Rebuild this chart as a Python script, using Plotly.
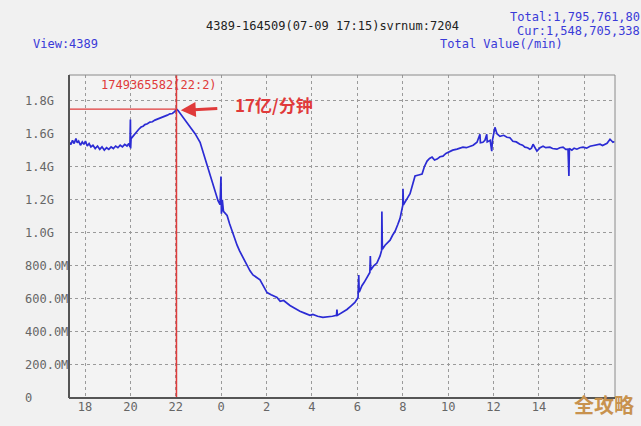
import plotly.graph_objects as go

# ---- data (hours since 00:00 of 07-09; values in G per minute) ----
hours = [17.30, 17.38, 17.45, 17.52, 17.60, 17.66, 17.72, 17.80, 17.88, 17.95,
         18.02, 18.10, 18.18, 18.26, 18.35, 18.45, 18.55, 18.65, 18.75, 18.85,
         18.95, 19.05, 19.15, 19.25, 19.35, 19.45, 19.55, 19.65, 19.75, 19.85,
         19.93, 19.98, 20.00, 20.01, 20.03,
         20.12, 20.20, 20.28, 20.36, 20.47, 20.56, 20.64, 20.75, 20.86, 20.97,
         21.08, 21.20, 21.30, 21.42, 21.52, 21.63, 21.74, 21.85, 21.96, 22.03,
         22.10, 22.18, 22.40, 22.63, 22.85, 23.07, 23.18, 23.29, 23.40, 23.51,
         23.62, 23.73, 23.86, 23.95, 23.99, 24.01, 24.05, 24.10, 24.26, 24.37,
         24.48, 24.60, 24.70, 24.81, 24.92, 25.03, 25.14, 25.27, 25.40, 25.55,
         25.71, 25.85, 26.02, 26.20, 26.46, 26.60, 26.75, 27.03, 27.25, 27.47,
         27.70, 27.91, 28.04, 28.25, 28.48, 28.70, 28.90, 29.08, 29.10, 29.12,
         29.30, 29.54, 29.70, 29.89, 30.03, 30.06, 30.08, 30.20, 30.30, 30.42,
         30.55, 30.57, 30.59, 30.72, 30.86, 31.00, 31.07, 31.08, 31.10, 31.22,
         31.33, 31.44, 31.55, 31.66, 31.78, 31.88, 32.00, 32.01, 32.03, 32.19,
         32.32, 32.45, 32.54, 32.70, 32.85, 32.95, 33.07, 33.18, 33.29, 33.40,
         33.51, 33.64, 33.77, 33.90, 34.08, 34.20, 34.39, 34.50, 34.65, 34.80,
         34.96, 35.10, 35.27, 35.40, 35.42, 35.53, 35.62, 35.70, 35.72, 35.85,
         35.92, 35.95, 36.06, 36.15, 36.28, 36.45, 36.59, 36.72, 36.85, 37.00,
         37.16, 37.28, 37.38, 37.50, 37.60, 37.67, 37.74, 37.82, 37.91, 38.05,
         38.18, 38.30, 38.48, 38.60, 38.79, 38.92, 39.06, 39.18, 39.28, 39.32,
         39.34, 39.45, 39.55, 39.67, 39.80, 39.94, 40.10, 40.25, 40.45, 40.69,
         40.80, 41.00, 41.13, 41.26, 41.33]
values_g = [1.550, 1.535, 1.560, 1.540, 1.570, 1.545, 1.555, 1.530, 1.550, 1.535,
            1.555, 1.525, 1.540, 1.520, 1.530, 1.510, 1.525, 1.505, 1.520, 1.500,
            1.515, 1.505, 1.520, 1.510, 1.525, 1.515, 1.530, 1.520, 1.535, 1.525,
            1.540, 1.520, 1.685, 1.510, 1.570,
            1.585, 1.600, 1.610, 1.625, 1.640, 1.645, 1.655, 1.660, 1.670, 1.672,
            1.682, 1.688, 1.695, 1.700, 1.706, 1.712, 1.720, 1.722, 1.735, 1.749,
            1.740, 1.725, 1.690, 1.644, 1.600, 1.548, 1.500, 1.446, 1.395, 1.344,
            1.295, 1.248, 1.194, 1.170, 1.340, 1.116, 1.200, 1.130, 1.105, 1.055,
            1.009, 0.965, 0.925, 0.890, 0.859, 0.830, 0.799, 0.770, 0.745, 0.730,
            0.715, 0.680, 0.638, 0.625, 0.608, 0.585, 0.590, 0.560, 0.540, 0.525,
            0.512, 0.500, 0.506, 0.495, 0.488, 0.490, 0.495, 0.500, 0.536, 0.500,
            0.515, 0.536, 0.555, 0.578, 0.608, 0.745, 0.640, 0.680, 0.700, 0.728,
            0.760, 0.859, 0.775, 0.800, 0.817, 0.860, 0.895, 1.129, 0.900, 0.925,
            0.940, 0.955, 0.985, 1.009, 1.050, 1.087, 1.165, 1.266, 1.170, 1.207,
            1.237, 1.300, 1.344, 1.350, 1.356, 1.400, 1.434, 1.450, 1.458, 1.440,
            1.446, 1.460, 1.464, 1.480, 1.494, 1.500, 1.506, 1.512, 1.518, 1.515,
            1.524, 1.530, 1.548, 1.596, 1.545, 1.548, 1.560, 1.596, 1.550, 1.560,
            1.494, 1.560, 1.638, 1.600, 1.584, 1.590, 1.578, 1.575, 1.554, 1.550,
            1.536, 1.530, 1.518, 1.515, 1.506, 1.512, 1.536, 1.515, 1.494, 1.515,
            1.524, 1.515, 1.518, 1.510, 1.506, 1.515, 1.518, 1.505, 1.506, 1.344,
            1.510, 1.500, 1.512, 1.506, 1.515, 1.518, 1.512, 1.524, 1.530, 1.536,
            1.528, 1.542, 1.566, 1.548, 1.552]

x_tickvals = [18, 20, 22, 24, 26, 28, 30, 32, 34, 36, 38, 40]
x_ticktext = ["18", "20", "22", "0", "2", "4", "6", "8", "10", "12", "14", ""]
y_tickvals = [0, 0.2, 0.4, 0.6, 0.8, 1.0, 1.2, 1.4, 1.6, 1.8]
y_ticktext = ["0", "200.0M", "400.0M", "600.0M", "800.0M", "1.0G", "1.2G", "1.4G", "1.6G", "1.8G"]

peak_hour = 22.03
peak_value = 1.749
peak_label = "1749365582(22:2)"

X_RANGE = [17.295, 41.35]
Y_RANGE = [0, 1.955]

MONO = "DejaVu Sans Mono"
BLUE_TXT = "#3a3ad8"
RED = "#e03a3a"

W, H = 641, 426
ML, MR, MT, MB = 69, 26, 75, 24
PW, PH = W - ML - MR, H - MT - MB

fig = go.Figure()
fig.add_trace(go.Scatter(x=hours, y=values_g, mode="lines",
                         line=dict(color="#2b2bd4", width=1.7), hoverinfo="skip",
                         showlegend=False))

# red marker lines
fig.add_shape(type="line", xref="x", yref="y", x0=X_RANGE[0], x1=peak_hour,
              y0=peak_value, y1=peak_value, line=dict(color=RED, width=1.2))
fig.add_shape(type="line", xref="x", yref="paper", x0=peak_hour, x1=peak_hour,
              y0=0, y1=1, line=dict(color=RED, width=1.5))
# frame (top/right lighter), axes (left/bottom darker)
fig.add_shape(type="rect", xref="paper", yref="paper", x0=0, x1=1, y0=0, y1=1,
              line=dict(color="#8a8a8a", width=1))
fig.add_shape(type="line", xref="paper", yref="paper", x0=0, x1=0, y0=0, y1=1,
              line=dict(color="#555555", width=2))
fig.add_shape(type="line", xref="paper", yref="paper", x0=0, x1=1, y0=0, y1=0,
              line=dict(color="#555555", width=2))


def px_ann(x, y, text, anchor, font):
    return dict(x=(x - ML) / PW, y=(H - MB - y) / PH, xref="paper", yref="paper",
                text=text, showarrow=False, xanchor=anchor, yanchor="middle", font=font)


ann = []
for v, t in zip(y_tickvals, y_ticktext):
    ann.append(dict(x=(23 - ML) / PW, xref="paper", y=v, yref="y", text=t, showarrow=False,
                    xanchor="left", yanchor="middle",
                    font=dict(family=MONO, size=12, color="#666666")))
ann.append(dict(x=18.62, xref="x", y=1.895, yref="y", text=peak_label, showarrow=False,
                xanchor="left", yanchor="middle", font=dict(family=MONO, size=12, color=RED)))
ann.append(dict(x=22.22, xref="x", y=1.741, yref="y", text="", showarrow=True,
                ax=38, ay=-2, arrowhead=2, arrowsize=1, arrowwidth=3, arrowcolor=RED))
ann.append(px_ann(233, 105, "<b>17亿/分钟</b>", "left",
                  dict(family="Noto Sans CJK SC", size=17, color=RED)))
ann.append(px_ann(332, 25, "4389-164509(07-09 17:15)svrnum:7204", "center",
                  dict(family=MONO, size=12, color="#222222")))
ann.append(px_ann(508, 16, "Total:1,795,761,80", "left", dict(family=MONO, size=12, color=BLUE_TXT)))
ann.append(px_ann(515, 30, "Cur:1,548,705,338", "left", dict(family=MONO, size=12, color=BLUE_TXT)))
ann.append(px_ann(31, 44, "View:4389", "left", dict(family=MONO, size=12, color=BLUE_TXT)))
ann.append(px_ann(438, 44, "Total Value(/min)", "left", dict(family=MONO, size=12, color=BLUE_TXT)))
ann.append(px_ann(604, 409, "<b>全攻略</b>", "center",
                  dict(family="Noto Sans CJK SC", size=20, color="#c8924e")))

fig.update_layout(
    width=W, height=H,
    margin=dict(l=ML, r=MR, t=MT, b=MB),
    paper_bgcolor="#f1f1f1", plot_bgcolor="#f3f3f3",
    showlegend=False,
    annotations=ann,
    xaxis=dict(range=X_RANGE, tickvals=x_tickvals, ticktext=x_ticktext,
               showgrid=True, gridcolor="#9a9a9a", griddash="dot", gridwidth=1,
               zeroline=False, showline=False, ticks="",
               tickfont=dict(family=MONO, size=12, color="#666666")),
    yaxis=dict(range=Y_RANGE, tickvals=y_tickvals, showticklabels=False,
               showgrid=True, gridcolor="#9a9a9a", griddash="dot", gridwidth=1,
               zeroline=False, showline=False, ticks=""),
)

fig.write_html("out.html", config={"displayModeBar": False},
               post_script="document.body.style.margin='0';document.body.style.padding='0';")
